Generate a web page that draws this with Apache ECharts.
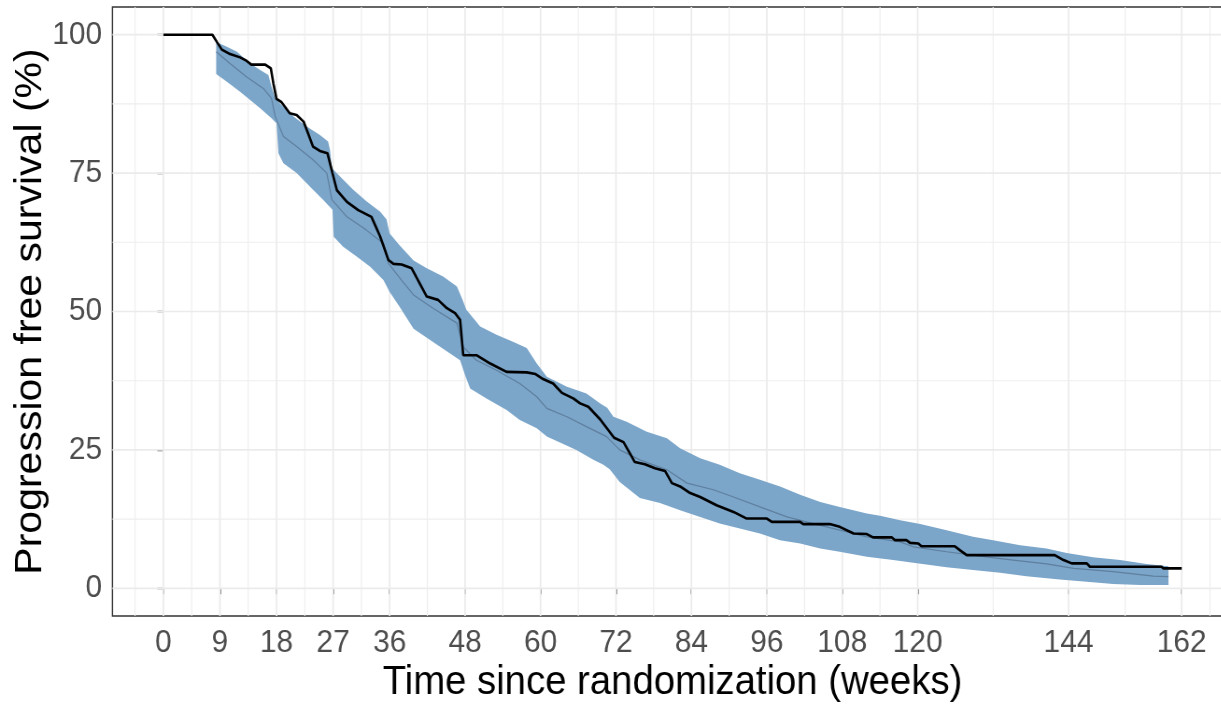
<!DOCTYPE html>
<html>
<head>
<meta charset="utf-8">
<title>Progression free survival</title>
<script src="https://cdn.jsdelivr.net/npm/echarts@6/dist/echarts.min.js"></script>
<style>
  html, body { margin: 0; padding: 0; background: #ffffff; overflow: hidden; }
  /* the figure is laid out slightly wider and then condensed horizontally */
  #chart { width: 1308px; height: 705px; transform: scaleX(0.934); transform-origin: 0 0; }
</style>
</head>
<body>
<div id="chart"></div>
<script>
// Axis limits and breaks (weeks / percent)
const xLimits = [-8.1, 170.1];
const yLimits = [-5, 105];
const xTicks = [0, 9, 18, 27, 36, 48, 60, 72, 84, 96, 108, 120, 144, 162];
const xMinor = [-4.5, 4.5, 13.5, 22.5, 31.5, 42, 54, 66, 78, 90, 102, 114, 132, 153, 166.5];
const yTicks = [0, 25, 50, 75, 100];
const yMinor = [12.5, 37.5, 62.5, 87.5];

// Observed Kaplan-Meier estimate: [week, PFS %]
const kmObserved = [
  [0, 100], [7.8, 100], [8.5, 98.7], [9.3, 97.3], [10.6, 96.5], [12.2, 95.9], [13.2, 95.3],
  [14.0, 94.6], [16.2, 94.6], [17.1, 93.9], [17.5, 91.2], [18.0, 88.4], [18.8, 87.8],
  [20.1, 85.8], [21.2, 85.5], [22.3, 84.3], [23.8, 79.8], [24.9, 79.0], [26.1, 78.6],
  [26.9, 75.0], [27.6, 71.9], [29.2, 69.8], [31.0, 68.3], [33.1, 67.1], [34.5, 63.5],
  [35.8, 59.3], [36.6, 58.6], [37.9, 58.5], [39.5, 57.8], [41.9, 52.7], [43.7, 52.1],
  [45.1, 50.6], [46.4, 49.7], [47.2, 48.5], [47.7, 42.1], [49.8, 42.1], [52.0, 40.6],
  [54.6, 39.1], [57.8, 39.0], [59.2, 38.7], [60.4, 37.8], [62.0, 37.0], [63.4, 35.3],
  [65.2, 34.3], [66.3, 33.4], [67.6, 32.8], [69.5, 30.5], [71.7, 27.2], [73.2, 26.4],
  [75.0, 22.8], [76.6, 22.4], [78.2, 21.7], [79.8, 21.2], [80.9, 19.0], [82.2, 18.4],
  [83.8, 17.2], [85.4, 16.5], [88.0, 15.0], [90.7, 13.8], [92.8, 12.6], [96.0, 12.6],
  [96.8, 12.0], [101.3, 12.0], [101.8, 11.6], [106.0, 11.6], [107.6, 11.1], [109.8, 9.9],
  [111.9, 9.8], [112.9, 9.2], [115.9, 9.2], [116.4, 8.7], [118.2, 8.7], [118.8, 8.2],
  [120.1, 8.1], [120.6, 7.6], [125.9, 7.6], [126.7, 6.9], [127.8, 6.0], [141.8, 6.0],
  [143.2, 5.1], [144.5, 4.5], [146.9, 4.5], [147.4, 3.9], [158.8, 3.9], [159.1, 3.6],
  [162, 3.6]
];

// Simulated median and prediction interval: [week, PFS %]
const simMedian = [
  [8.4, 96.9], [10.6, 94.8], [13.2, 92.4], [15.9, 90.3], [17.2, 88.5], [17.8, 85.2],
  [19.1, 81.6], [21.2, 79.8], [23.8, 77.4], [26.0, 75.0], [26.8, 70.2], [29.2, 67.1],
  [32.3, 64.7], [35.0, 62.3], [35.8, 58.7], [38.0, 55.5], [39.8, 53.0], [42.9, 50.6],
  [46.7, 47.9], [47.7, 43.6], [49.8, 41.2], [53.0, 39.4], [56.7, 37.0], [59.4, 34.6],
  [61.0, 32.5], [64.2, 31.0], [67.3, 29.2], [70.5, 27.4], [72.6, 25.0], [75.8, 23.2],
  [80.1, 21.4], [83.3, 19.0], [87.5, 17.8], [90.7, 16.5], [94.9, 14.7], [99.2, 12.9],
  [103.4, 11.7], [107.6, 10.5], [111.9, 9.3], [117.2, 8.4], [119.3, 7.5], [124.6, 6.6],
  [129.9, 5.8], [135.2, 5.1], [140.5, 4.4], [144.8, 3.6], [151.1, 3.0], [157.5, 2.2],
  [159.9, 2.1]
];

const simUpper = [
  [8.4, 98.7], [10.1, 97.8], [11.7, 96.9], [13.8, 94.8], [15.4, 93.6], [16.7, 92.7],
  [17.2, 90.6], [17.8, 88.5], [18.8, 87.3], [20.7, 85.2], [22.8, 83.4], [24.9, 81.9],
  [26.2, 80.7], [26.5, 79.2], [26.8, 75.9], [28.1, 74.4], [30.2, 72.0], [32.3, 69.9],
  [34.5, 68.0], [35.5, 66.6], [36.0, 64.1], [37.6, 61.9], [39.8, 59.2], [41.9, 57.8],
  [44.5, 56.3], [46.7, 54.5], [47.7, 51.8], [48.2, 50.3], [50.4, 47.3], [53.0, 45.8],
  [55.7, 44.5], [57.8, 43.4], [59.4, 40.6], [61.0, 38.2], [64.2, 36.4], [67.3, 35.2],
  [69.5, 33.4], [70.6, 32.6], [71.6, 31.0], [73.7, 30.1], [76.9, 28.3], [80.1, 27.1],
  [82.2, 25.3], [85.4, 23.5], [88.5, 22.3], [91.7, 20.8], [94.9, 19.6], [98.1, 18.4],
  [101.3, 16.9], [104.5, 15.6], [107.6, 14.7], [111.9, 13.5], [114.0, 13.1], [117.2, 12.3],
  [120.4, 11.6], [124.6, 10.5], [128.8, 9.3], [132.0, 8.7], [136.3, 7.8], [140.5, 7.2],
  [143.7, 6.4], [147.9, 5.6], [152.2, 5.1], [156.4, 4.4], [159.9, 4.0]
];

const simLower = [
  [8.4, 92.9], [10.1, 91.5], [12.2, 89.7], [13.8, 88.2], [15.4, 86.7], [17.2, 84.9],
  [18.0, 84.0], [18.3, 78.6], [19.1, 76.8], [21.2, 75.0], [23.3, 72.6], [25.4, 70.2],
  [26.9, 68.4], [27.1, 63.5], [28.6, 61.7], [30.8, 59.9], [32.9, 58.1], [35.0, 55.7],
  [36.0, 53.5], [37.5, 51.0], [39.8, 46.9], [42.9, 44.5], [47.2, 41.2], [48.0, 38.5],
  [48.8, 36.1], [51.4, 34.3], [54.6, 32.2], [56.7, 30.4], [59.4, 28.9], [61.0, 27.4],
  [65.7, 25.0], [68.4, 23.2], [70.0, 22.3], [71.0, 21.5], [72.6, 19.2], [75.8, 16.3],
  [79.0, 15.4], [82.2, 14.1], [85.4, 12.9], [88.5, 11.7], [91.7, 10.8], [94.9, 9.9],
  [98.1, 8.7], [101.3, 8.1], [104.5, 7.2], [107.6, 6.6], [111.9, 5.7], [116.1, 5.1],
  [119.3, 4.6], [124.6, 3.8], [128.8, 3.3], [133.1, 2.8], [137.3, 2.2], [142.6, 1.6],
  [146.9, 1.2], [151.1, 0.8], [155.4, 0.6], [159.9, 0.6]
];

const FONT = '"Liberation Sans", Arial, sans-serif';
const chart = echarts.init(document.getElementById('chart'), null, { renderer: 'canvas' });

// grid line rows: [x, y, isMajor]
const vGrid = xMinor.map(v => [v, 0, 0]).concat(xTicks.map(v => [v, 0, 1]));
const hGrid = yMinor.map(v => [0, v, 0]).concat(yTicks.map(v => [0, v, 1]));

function gridStyle(major) {
  return major ? { stroke: '#ebebeb', lineWidth: 1.7 } : { stroke: '#eeeeee', lineWidth: 1.1 };
}

chart.setOption({
  animation: false,
  backgroundColor: '#ffffff',
  grid: {
    left: 120.4, top: 7, width: 1199.3, height: 609,
    outerBoundsMode: 'none', containLabel: false,
    show: true, borderColor: '#333333', borderWidth: 1.4, backgroundColor: 'transparent'
  },
  xAxis: {
    type: 'value', min: xLimits[0], max: xLimits[1],
    name: 'Time since randomization (weeks)',
    nameLocation: 'middle', nameGap: 46, nameMoveOverlap: false,
    nameTextStyle: { fontFamily: FONT, fontSize: 41, color: '#000000' },
    axisLine: { show: false },
    axisTick: { show: true, length: 6, customValues: xTicks, lineStyle: { color: '#333333', width: 1.5 } },
    axisLabel: { customValues: xTicks, margin: 11, fontFamily: FONT, fontSize: 32, color: '#4d4d4d' },
    splitLine: { show: false }
  },
  yAxis: {
    type: 'value', min: yLimits[0], max: yLimits[1],
    name: 'Progression free survival (%)',
    nameLocation: 'middle', nameGap: 67, nameRotate: 90, nameMoveOverlap: false,
    nameTextStyle: { fontFamily: FONT, fontSize: 41, color: '#000000' },
    axisLine: { show: false },
    axisTick: { show: true, length: 6.4, customValues: yTicks, lineStyle: { color: '#333333', width: 1.4 } },
    axisLabel: { customValues: yTicks, margin: 11, fontFamily: FONT, fontSize: 32, color: '#4d4d4d' },
    splitLine: { show: false }
  },
  series: [
    {
      // vertical background grid lines
      type: 'custom', name: 'vgrid', z: 1, silent: true, data: vGrid,
      renderItem: function (params, api) {
        const a = api.coord([api.value(0), yLimits[0]]);
        const b = api.coord([api.value(0), yLimits[1]]);
        return { type: 'line', shape: { x1: a[0], y1: a[1], x2: b[0], y2: b[1] }, style: gridStyle(api.value(2)) };
      }
    },
    {
      // horizontal background grid lines
      type: 'custom', name: 'hgrid', z: 1, silent: true, data: hGrid,
      renderItem: function (params, api) {
        const a = api.coord([xLimits[0], api.value(1)]);
        const b = api.coord([xLimits[1], api.value(1)]);
        return { type: 'line', shape: { x1: a[0], y1: a[1], x2: b[0], y2: b[1] }, style: gridStyle(api.value(2)) };
      }
    },
    {
      // prediction interval ribbon
      type: 'custom', name: 'interval', z: 2, silent: true,
      data: [[0, 0]],
      renderItem: function (params, api) {
        const pts = simUpper.map(p => api.coord(p))
          .concat(simLower.slice().reverse().map(p => api.coord(p)));
        return { type: 'polygon', shape: { points: pts }, style: { fill: '#7ba6ca' } };
      }
    },
    {
      type: 'line', name: 'median', z: 3, data: simMedian, showSymbol: false, silent: true,
      lineStyle: { color: '#5f7f9d', width: 1.2 }
    },
    {
      type: 'line', name: 'observed', z: 4, data: kmObserved, showSymbol: false, silent: true,
      lineStyle: { color: '#000000', width: 2.6 }
    }
  ]
});
</script>
</body>
</html>
